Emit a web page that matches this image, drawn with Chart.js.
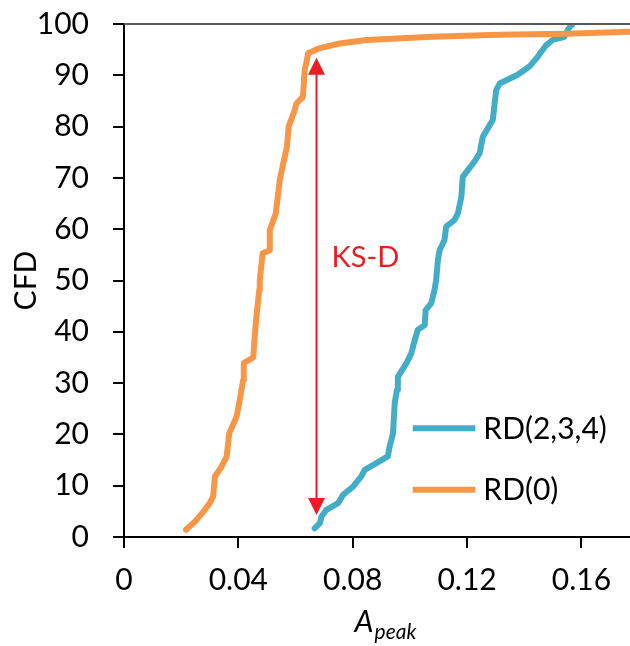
<!DOCTYPE html>
<html>
<head>
<meta charset="utf-8">
<script src="https://cdn.jsdelivr.net/npm/chart.js@4/dist/chart.umd.min.js"></script>
<style>html,body{margin:0;background:#fff}</style>
</head>
<body>
<canvas id="c" width="630" height="646"></canvas>
<script>
// CFD of A_peak, RD(0) vs RD(2,3,4), with KS-D gap marked.

const RD0_X = [0.0217, 0.0248, 0.0277, 0.0300, 0.0312, 0.0318, 0.0341, 0.0359, 0.0368, 0.0394,
  0.0405, 0.0417, 0.0419, 0.0452, 0.0461, 0.0473, 0.0475, 0.0485, 0.0510, 0.0510,
  0.0531, 0.0545, 0.0557, 0.0570, 0.0576, 0.0597, 0.0603, 0.0626, 0.0632, 0.0640,
  0.0644, 0.0685, 0.0755, 0.0848, 0.1079, 0.1314, 0.1547, 0.1768];
const RD0_Y = [1.4, 3.0, 4.9, 6.6, 7.9, 11.8, 13.7, 15.6, 20.2, 23.5,
  26.7, 30.6, 33.9, 35.0, 41.7, 48.1, 50.1, 55.3, 55.9, 59.8,
  63.1, 69.6, 72.8, 76.1, 80.0, 83.2, 84.5, 85.8, 91.0, 93.0,
  94.3, 95.3, 96.2, 96.9, 97.5, 97.9, 98.1, 98.5];

const RD234_X = [0.0667, 0.0685, 0.0691, 0.0708, 0.0749, 0.0766, 0.0801, 0.0830, 0.0842, 0.0883,
  0.0923, 0.0929, 0.0941, 0.0947, 0.0955, 0.0958, 0.0988, 0.1005, 0.1017, 0.1028,
  0.1052, 0.1055, 0.1075, 0.1086, 0.1092, 0.1098, 0.1104, 0.1121, 0.1127, 0.1156,
  0.1168, 0.1180, 0.1185, 0.1203, 0.1226, 0.1244, 0.1255, 0.1290, 0.1302, 0.1314,
  0.1377, 0.1418, 0.1447, 0.1477, 0.1500, 0.1541, 0.1552, 0.1564, 0.1567];
const RD234_Y = [1.7, 2.7, 4.0, 5.3, 6.6, 8.2, 9.8, 11.8, 13.1, 14.4,
  15.7, 17.6, 20.2, 26.1, 28.7, 31.2, 33.9, 35.8, 38.4, 40.4,
  41.3, 44.2, 45.6, 48.1, 50.1, 54.0, 55.9, 57.9, 60.5, 61.8,
  63.1, 66.3, 70.2, 71.5, 73.2, 74.8, 78.0, 81.3, 87.1, 88.4,
  90.1, 91.7, 93.6, 95.9, 96.9, 97.5, 98.8, 99.8, 100];

const X_TICKS = [0, 0.04, 0.08, 0.12, 0.16];
const SERIES_NAMES = ['RD(2,3,4)', 'RD(0)'];
const KS_X = 0.067;
const KS_RANGE = [4.3, 93.4];
const KS_LABEL_Y = 54.5;

const BLUE = '#43adc7';
const ORANGE = '#f79646';
const RED = '#ed1c24';
const FONT = 'Lato, "Open Sans", sans-serif';

const toPts = (xs, ys) => xs.map((v, i) => ({ x: v, y: ys[i] }));

const overlay = {
  id: 'overlay',
  afterDraw(chart) {
    const { ctx, chartArea: a, scales: { x, y } } = chart;
    ctx.save();

    // top frame line
    ctx.strokeStyle = '#595959';
    ctx.lineWidth = 2;
    ctx.beginPath(); ctx.moveTo(a.left, a.top); ctx.lineTo(a.right, a.top); ctx.stroke();

    // KS-D double arrow
    const ax = Math.round(x.getPixelForValue(KS_X)) + 0.5;
    const yLo = y.getPixelForValue(KS_RANGE[0]);
    const yHi = y.getPixelForValue(KS_RANGE[1]);
    const head = 17, half = 8.5;
    ctx.strokeStyle = RED; ctx.fillStyle = RED; ctx.lineWidth = 2;
    ctx.beginPath(); ctx.moveTo(ax, yHi + head - 2); ctx.lineTo(ax, yLo - head + 2); ctx.stroke();
    ctx.beginPath(); ctx.moveTo(ax, yHi); ctx.lineTo(ax - half, yHi + head); ctx.lineTo(ax + half, yHi + head); ctx.closePath(); ctx.fill();
    ctx.beginPath(); ctx.moveTo(ax, yLo); ctx.lineTo(ax - half, yLo - head); ctx.lineTo(ax + half, yLo - head); ctx.closePath(); ctx.fill();
    ctx.font = '29px ' + FONT;
    ctx.textBaseline = 'middle';
    ctx.textAlign = 'left';
    ctx.fillText('KS-D', ax + 15, y.getPixelForValue(KS_LABEL_Y));

    // legend, inside the plot
    ctx.font = '30px ' + FONT;
    const lx0 = x.getPixelForValue(0.101), lx1 = x.getPixelForValue(0.1229);
    const rows = [21.2, 9.2];
    const cols = [BLUE, ORANGE];
    ctx.lineWidth = 6;
    rows.forEach((rv, i) => {
      const ly = y.getPixelForValue(rv);
      ctx.strokeStyle = cols[i];
      ctx.beginPath(); ctx.moveTo(lx0, ly); ctx.lineTo(lx1, ly); ctx.stroke();
      ctx.fillStyle = '#000';
      ctx.fillText(SERIES_NAMES[i], lx1 + 8, ly + 1);
    });

    // x title: A with subscript "peak"
    ctx.fillStyle = '#000';
    ctx.textBaseline = 'alphabetic';
    ctx.font = 'italic 30px ' + FONT;
    const wA = ctx.measureText('A').width;
    ctx.font = 'italic 21px ' + FONT;
    const wS = ctx.measureText('peak').width;
    const cx = (a.left + a.right) / 2 + 8;
    const bx = cx - (wA + wS) / 2;
    ctx.font = 'italic 30px ' + FONT;
    ctx.fillText('A', bx, 632);
    ctx.font = 'italic 21px ' + FONT;
    ctx.fillText('peak', bx + wA + 1, 639);

    ctx.restore();
  }
};

new Chart(document.getElementById('c').getContext('2d'), {
  type: 'line',
  data: {
    datasets: [
      {
        label: SERIES_NAMES[0], data: toPts(RD234_X, RD234_Y),
        borderColor: BLUE, borderWidth: 6, pointRadius: 0, tension: 0,
        borderJoinStyle: 'round', borderCapStyle: 'round', order: 1,
      },
      {
        label: SERIES_NAMES[1], data: toPts(RD0_X, RD0_Y),
        borderColor: ORANGE, borderWidth: 6, pointRadius: 0, tension: 0,
        borderJoinStyle: 'round', borderCapStyle: 'round', order: 0,
      },
    ],
  },
  options: {
    responsive: false, animation: false,
    layout: { padding: { top: 24, right: 0, bottom: 0, left: 0 } },
    plugins: { legend: { display: false }, tooltip: { enabled: false } },
    scales: {
      x: {
        type: 'linear', min: 0, max: 0.177,
        afterBuildTicks: s => { s.ticks = X_TICKS.map(v => ({ value: v })); },
        afterFit: s => { s.height = 109; s.paddingLeft = 0; s.paddingRight = 0; },
        grid: { drawOnChartArea: false, tickLength: 11, color: '#000', lineWidth: 2 },
        border: { color: '#000', width: 2 },
        ticks: {
          color: '#000', font: { family: FONT, size: 30 }, padding: 14, maxRotation: 0,
          callback: v => (v === 0 ? '0' : v.toFixed(2)),
        },
      },
      y: {
        min: 0, max: 100,
        afterFit: s => { s.width = 124; s.paddingTop = 0; s.paddingBottom = 0; },
        grid: { drawOnChartArea: false, tickLength: 11, color: '#000', lineWidth: 2 },
        border: { color: '#000', width: 2 },
        ticks: { color: '#000', font: { family: FONT, size: 30 }, stepSize: 10, padding: 24 },
        title: { display: true, text: 'CFD', color: '#000', font: { family: FONT, size: 30 }, padding: { top: 8, bottom: 0 } },
      },
    },
  },
  plugins: [overlay],
});
</script>
</body>
</html>
